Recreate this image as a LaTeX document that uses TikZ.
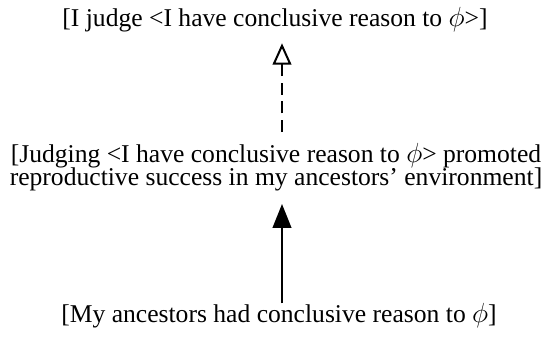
\documentclass[tikz,border=0pt]{standalone}
\usepackage{fontspec}
\setmainfont{Liberation Serif}
\usepackage{tikz}
\usetikzlibrary{arrows.meta}
\tikzset{
  claim/.style={
    align=center,
    font=\fontsize{19.2}{17.5}\selectfont,
    inner sep=0pt
  },
  causeedge/.style={line width=1.5pt, draw=black, -{Triangle[length=18pt,width=14pt]}},
  judgeedge/.style={line width=1.5pt, draw=black, dash pattern=on 9pt off 5pt,
    -{Triangle[open,length=16pt,width=14pt,line width=1.5pt]}}
}

\begin{document}
\begin{tikzpicture}[x=0.75pt,y=0.75pt]
\path[use as bounding box] (0,0) rectangle (550,346);

\node[claim] (judge) at (275,326) {[I judge <I have conclusive reason to $\phi$>]};
\node[claim] (promote) at (276,179) {[Judging <I have conclusive reason to $\phi$> promoted\\reproductive success in my ancestors' environment]};
\node[claim] (ancestor) at (279,30) {[My ancestors had conclusive reason to $\phi$]};

% shifts in pt: 1px = 0.75pt
\draw[causeedge] ([xshift=2.25pt,yshift=0pt]ancestor.north) -- ([xshift=4.5pt,yshift=-9.5pt]promote.south);
\draw[judgeedge] ([xshift=4.5pt,yshift=8pt]promote.north) -- ([xshift=5.25pt,yshift=-8pt]judge.south);
\end{tikzpicture}
\end{document}
